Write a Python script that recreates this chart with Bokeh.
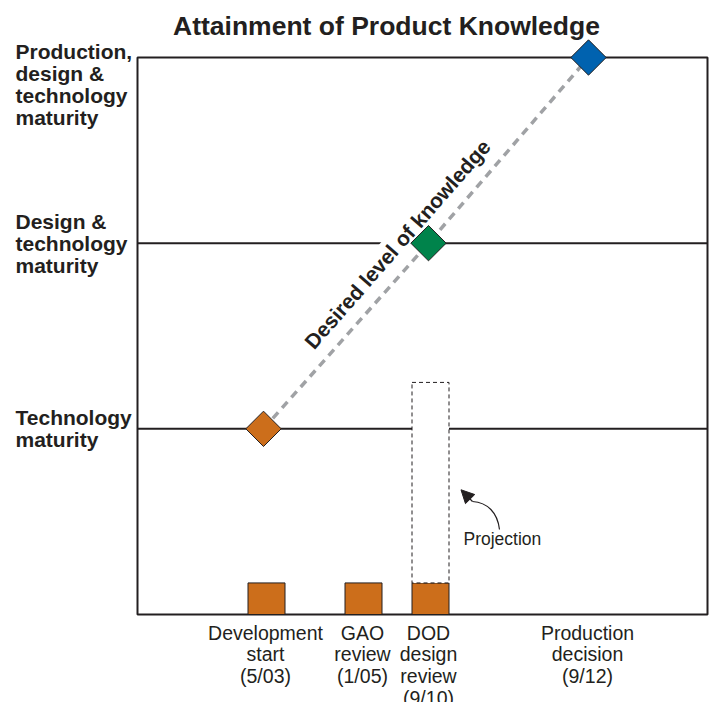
import math
from bokeh.plotting import figure
from bokeh.models import Range1d, Label, Arrow, NormalHead
from bokeh.core.properties import value
from bokeh.embed import file_html
from bokeh.resources import INLINE

# ---------------- data ----------------
title_text = "Attainment of Product Knowledge"
levels = [1, 2, 3]
level_labels = ["Technology\nmaturity",
                "Design &\ntechnology\nmaturity",
                "Production,\ndesign &\ntechnology\nmaturity"]
milestone_labels = ["Development\nstart\n(5/03)",
                    "GAO\nreview\n(1/05)",
                    "DOD\ndesign\nreview\n(9/10)",
                    "Production\ndecision\n(9/12)"]
milestone_x = [128, 225, 291, 450]
bar_x = [129, 226, 293]
bar_knowledge = [0.17, 0.17, 0.17]
projection_x = 293
projection_top = 1.25
desired_x = [126, 291, 451]
desired_level = [1, 2, 3]
desired_colors = ["#CC6E1B", "#00834B", "#0062AF"]
desired_text = "Desired level of knowledge"
projection_text = "Projection"

# ---------------- layout ----------------
INK = "#231F20"
ORANGE = "#CC6E1B"
FONT_NAME = "Liberation Sans"
FONT = value(FONT_NAME)
W, H = 713, 702
LEFT, BOTTOM, TOP = 137, 614, 57   # box edges in canvas pixels
BOX_W = 570            # x units are pixels
PX = (BOTTOM - TOP) / 3.0  # pixels per knowledge level
BAR_W = 37

p = figure(width=W, height=H,
           x_range=Range1d(-LEFT, W - LEFT),
           y_range=Range1d(-(H - BOTTOM) / PX, BOTTOM / PX),
           output_backend="svg", toolbar_location=None,
           x_axis_location=None, y_axis_location=None,
           min_border=0, outline_line_color=None)
p.grid.visible = False

def px_down(level, px):
    return level - px / PX

# level lines
p.segment(x0=[0, 0], x1=[BOX_W, BOX_W], y0=levels[:2], y1=levels[:2],
          line_color=INK, line_width=2)
# box
p.quad(left=[0], right=[BOX_W], bottom=[0], top=[3], fill_color=None,
       line_color=INK, line_width=2)
# bars
p.vbar(x=bar_x, bottom=0, top=bar_knowledge, width=BAR_W,
       fill_color=ORANGE, line_color=INK, line_width=1)
# projection box
p.quad(left=[projection_x - BAR_W / 2], right=[projection_x + BAR_W / 2],
       bottom=[bar_knowledge[2]], top=[projection_top],
       fill_color="white", line_color=INK, line_width=1, line_dash="4 3")

# desired line + diamonds
p.line(desired_x, desired_level, line_color="#A0A2A5", line_width=3.5,
       line_dash="8 6", level="overlay")
p.scatter(desired_x, desired_level, marker="square", angle=math.pi / 4,
          size=25, fill_color=desired_colors, line_color=INK,
          line_width=1, level="overlay")

ang = math.atan2((desired_level[2] - desired_level[0]) * PX,
                 desired_x[2] - desired_x[0])
p.add_layout(Label(x=260, y=1.995, text=desired_text, angle=ang,
                   text_align="center", text_baseline="middle",
                   text_font=FONT_NAME, text_font_style="bold",
                   text_font_size="21px", text_color=INK,
                   background_fill_color="white", padding=2))

# title
p.text(x=[249], y=[(BOTTOM - 25) / PX], text=[title_text], text_font=FONT,
       text_font_style="bold", text_font_size="26.5px", text_color=INK,
       text_align="center", text_baseline="middle")

# level labels
LH = 22
lx, ly, lt = [], [], []
for lev, lab in zip(levels, level_labels):
    lines = lab.split("\n")
    n = len(lines)
    offs = [(i - (n - 1) / 2) * LH for i in range(n)]
    top_limit = (3 - lev) * PX + 6  # first line center not above box top
    shift = max(0, -offs[0] - top_limit)
    for i, t in enumerate(lines):
        lx.append(15 - LEFT)
        ly.append(px_down(lev, offs[i] + shift))
        lt.append(t)
p.text(x=lx, y=ly, text=lt, text_font=FONT, text_font_style="bold",
       text_font_size="21px", text_color=INK, text_align="left",
       text_baseline="middle")

# milestone labels
mx, my, mt = [], [], []
for x, lab in zip(milestone_x, milestone_labels):
    for i, t in enumerate(lab.split("\n")):
        mx.append(x)
        my.append(px_down(0, 18 + i * 21.7))
        mt.append(t)
p.text(x=mx, y=my, text=mt, text_font=FONT, text_font_size="19.5px",
       text_color=INK, text_align="center", text_baseline="middle")

# projection annotation
p.bezier(x0=[362], y0=[0.458], x1=[335], y1=[0.6086],
         cx0=[360], cy0=[0.5494], cx1=[350], cy1=[0.6033],
         line_color=INK, line_width=1.2)
p.add_layout(Arrow(end=NormalHead(size=13, fill_color=INK, line_color=INK),
                   x_start=335, y_start=0.6086, x_end=323.5, y_end=0.6716,
                   line_color=INK, line_width=1.2))
p.text(x=[326], y=[0.404], text=[projection_text], text_font=FONT,
       text_font_size="17.5px", text_color=INK, text_align="left",
       text_baseline="middle")

open("out.html", "w").write(file_html(p, INLINE))
